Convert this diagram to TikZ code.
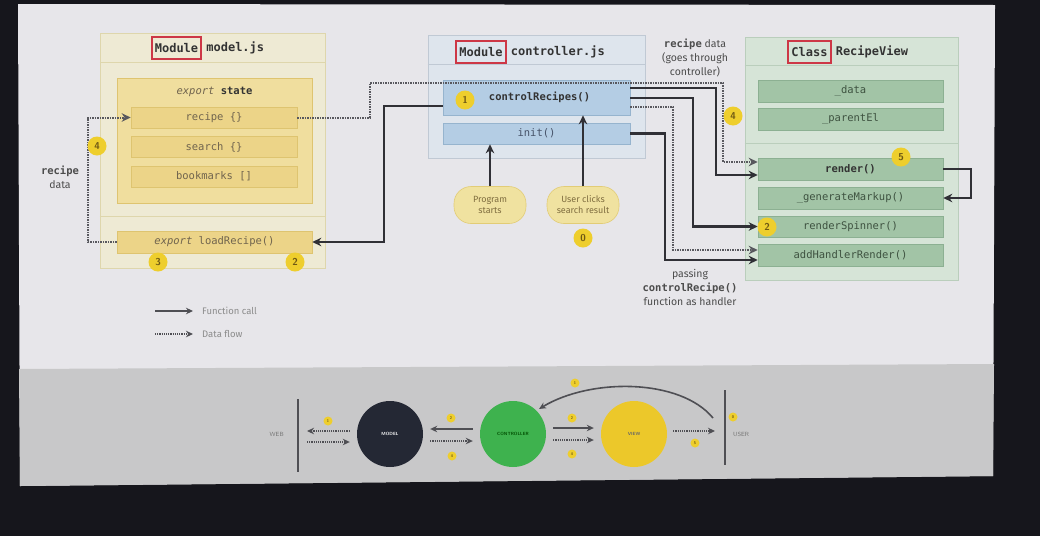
\documentclass[tikz,border=0pt]{standalone}
\usepackage{fontspec}
\setmainfont{Fira Sans}
\setmonofont{DejaVu Sans Mono}
\usetikzlibrary{arrows.meta, positioning, calc}

\definecolor{bezel}{RGB}{22,22,28}
\definecolor{slide}{RGB}{231,230,234}
\definecolor{band}{RGB}{200,200,201}
\definecolor{wire}{RGB}{48,48,54}
\definecolor{dotwire}{RGB}{88,88,94}
\definecolor{tagred}{RGB}{205,55,70}
\definecolor{badge}{RGB}{238,206,45}
\definecolor{badgetext}{RGB}{110,88,20}
% model colours
\definecolor{modelbg}{RGB}{238,234,212}
\definecolor{modelline}{RGB}{222,214,172}
\definecolor{modelitem}{RGB}{236,212,136}
\definecolor{modelitemline}{RGB}{222,196,112}
\definecolor{modeltext}{RGB}{112,100,78}
\definecolor{statebg}{RGB}{240,222,158}
% controller colours
\definecolor{ctrlbg}{RGB}{222,229,237}
\definecolor{ctrlline}{RGB}{192,201,212}
\definecolor{ctrlitem}{RGB}{180,205,228}
\definecolor{ctrlitemline}{RGB}{150,180,206}
\definecolor{ctrltext}{RGB}{70,82,104}
% view colours
\definecolor{viewbg}{RGB}{214,228,215}
\definecolor{viewline}{RGB}{186,206,188}
\definecolor{viewitem}{RGB}{162,196,166}
\definecolor{viewitemline}{RGB}{140,176,146}
\definecolor{viewtext}{RGB}{62,82,64}
% pills and overview
\definecolor{pillbg}{RGB}{240,226,160}
\definecolor{pillline}{RGB}{226,204,118}
\definecolor{pilltext}{RGB}{128,110,64}
\definecolor{modeldark}{RGB}{36,40,52}
\definecolor{ctrlgreen}{RGB}{62,178,78}
\definecolor{viewyellow}{RGB}{236,200,42}

\tikzset{
    outer-box/.style={
        draw=#1line, fill=#1bg, line width=.8pt, inner sep=0pt
    },
    item-box/.style={
        draw=#1itemline, fill=#1item, line width=.6pt, inner sep=0pt,
        minimum height=21pt, text=#1text,
        font=\ttfamily\fontsize{10.5}{12}\selectfont
    },
    tag-box/.style={
        draw=tagred, line width=2pt, inner xsep=3pt, inner ysep=2pt, minimum height=22pt,
        font=\ttfamily\bfseries\fontsize{12}{14}\selectfont, text=black!80
    },
    header-text/.style={
        inner sep=0pt, font=\ttfamily\bfseries\fontsize{12}{14}\selectfont, text=black!80
    },
    badge/.style={
        circle, fill=badge, inner sep=0pt, minimum size=19pt,
        font=\sffamily\bfseries\fontsize{10}{10}\selectfont, text=badgetext
    },
    mini-badge/.style={
        circle, fill=badge, inner sep=0pt, minimum size=9pt,
        font=\sffamily\bfseries\fontsize{4}{4}\selectfont, text=badgetext
    },
    pill/.style={
        draw=pillline, fill=pillbg, line width=.6pt, rounded corners=17pt,
        minimum width=72pt, minimum height=37pt, inner sep=0pt, align=center,
        font=\fontsize{9}{11}\selectfont, text=pilltext
    },
    note/.style={
        align=center, inner sep=0pt, text=black!70,
        font=\fontsize{10.5}{14}\selectfont
    },
    func-call/.style={
        draw=wire, line width=2.1pt, -{Stealth[length=9pt, width=8.5pt]}
    },
    data-flow/.style={
        draw=dotwire, line width=2pt, dash pattern=on 1.4pt off 1.1pt,
        -{Stealth[length=9pt, width=8.5pt]}
    },
    mini-call/.style={
        draw=wire!85, line width=1.5pt, -{Stealth[length=7pt, width=6.5pt]}
    },
    mini-data/.style={
        draw=wire!85, line width=1.5pt, dash pattern=on 1.2pt off 1pt,
        -{Stealth[length=7pt, width=6.5pt]}
    },
}

\begin{document}
\begin{tikzpicture}[x=1pt, y=-1pt]

        % SCREEN AND SLIDE
        \useasboundingbox (0,0) rectangle (1040,536);
        \fill[bezel] (0,0) rectangle (1040,536);
        \fill[slide] (18,4) -- (995,5) -- (993,476) -- (20,486) -- cycle;
        \fill[band]  (19,369) -- (994,364) -- (993,476) -- (20,486) -- cycle;

        % MODULE MODEL.JS
        \node[outer-box=model, minimum width=225pt, minimum height=235pt] (MODEL) at (212.5,150.5) {};
        \draw[modelline, line width=.8pt] ($(MODEL.north west)+(0,30)$)  -- ($(MODEL.north east)+(0,30)$);
        \draw[modelline, line width=.8pt] ($(MODEL.north west)+(0,184)$) -- ($(MODEL.north east)+(0,184)$);
        \node[tag-box, fill=modelbg]          (MODTAG)  at (176.5,48) {Module};
        \node[header-text, right=4pt of MODTAG] (MODNAME) {model.js};
        \node[draw=modelitemline, fill=statebg, line width=.6pt, minimum width=195pt, minimum height=125pt] (STATE) at (214.5,140.5) {};
        \node[inner sep=0pt, text=modeltext, font=\ttfamily\fontsize{10.5}{12}\selectfont] (STATELBL) at (214.5,92)
            {\textit{export} \textbf{\color{black!80}state}};
        \node[item-box=model, minimum width=166pt] (RECIPE)    at (214,117.5) {recipe \{\}};
        \node[item-box=model, minimum width=166pt] (SEARCH)    at (214,147)   {search \{\}};
        \node[item-box=model, minimum width=166pt] (BOOKMARKS) at (214,176.5) {bookmarks []};
        \node[item-box=model, minimum width=195pt, minimum height=22pt] (LOAD) at (214.5,242) {\textit{export} loadRecipe()};

        % MODULE CONTROLLER.JS
        \node[outer-box=ctrl, minimum width=217pt, minimum height=123pt] (CTRL) at (536.5,96.5) {};
        \draw[ctrlline, line width=.8pt] ($(CTRL.north west)+(0,30)$) -- ($(CTRL.north east)+(0,30)$);
        \node[tag-box, fill=ctrlbg]              (CTRLTAG)  at (481,52) {Module};
        \node[header-text, right=4pt of CTRLTAG] (CTRLNAME) {controller.js};
        \node[item-box=ctrl, minimum width=187pt, minimum height=35pt, text=black!80,
              font=\ttfamily\bfseries\fontsize{10.5}{12}\selectfont] (CONTROLRECIPES) at (536.5,97.5) {\hspace*{6pt}controlRecipes()};
        \node[item-box=ctrl, minimum width=187pt] (INIT) at (536.5,133.5) {init()};
        \node[pill] (PROGRAM)   at (490,205) {Program\\starts};
        \node[pill] (USERCLICK) at (583,205) {User clicks\\search result};

        % CLASS RECIPEVIEW
        \node[outer-box=view, minimum width=213pt, minimum height=243pt] (VIEW) at (851.5,158.5) {};
        \draw[viewline, line width=.8pt] ($(VIEW.north west)+(0,29)$)  -- ($(VIEW.north east)+(0,29)$);
        \draw[viewline, line width=.8pt] ($(VIEW.north west)+(0,107)$) -- ($(VIEW.north east)+(0,107)$);
        \node[tag-box, fill=viewbg]              (VIEWTAG)  at (809.5,52) {Class};
        \node[header-text, right=4pt of VIEWTAG] (VIEWNAME) {RecipeView};
        \node[item-box=view, minimum width=185pt, minimum height=22pt] (DATA)       at (850.5,91)    {\_data};
        \node[item-box=view, minimum width=185pt, minimum height=22pt] (PARENTEL)   at (850.5,119)   {\_parentEl};
        \node[item-box=view, minimum width=185pt, minimum height=22pt, text=black!80,
              font=\ttfamily\bfseries\fontsize{10.5}{12}\selectfont] (RENDER)      at (850.5,169)   {render()};
        \node[item-box=view, minimum width=185pt, minimum height=22pt] (GENMARKUP)  at (850.5,198)   {\_generateMarkup()};
        \node[item-box=view, minimum width=185pt] (SPINNER)    at (850.5,226.5) {renderSpinner()};
        \node[item-box=view, minimum width=185pt, minimum height=22pt] (ADDHANDLER) at (850.5,255)   {addHandlerRender()};

        % CONNECTOR POINTS
        \coordinate (LOOPL) at (88,180);
        \coordinate (TOPL)  at (370,83);
        \coordinate (TOPR)  at (723,162);
        \coordinate (CALLL) at (384,106);
        \coordinate (CALLR) at (716,88);
        \coordinate (CALLS) at (693,98);
        \coordinate (HANDD) at (673,107);
        \coordinate (HANDC) at (665,133.5);
        \coordinate (SELF)  at (971,180);

        % DATA FLOW
        \draw[data-flow] (LOAD.west) -| (LOOPL) |- (RECIPE.west);
        \draw[data-flow] (RECIPE.east) -| (TOPL) -| (TOPR) -- (RENDER.west |- TOPR);
        \draw[data-flow] (CONTROLRECIPES.east |- HANDD) -- (HANDD) |- ([yshift=5pt]ADDHANDLER.west);

        % FUNCTION CALLS
        \draw[func-call] (CONTROLRECIPES.west |- CALLL) -- (CALLL) |- (LOAD.east);
        \draw[func-call] (CONTROLRECIPES.east |- CALLR) -- (CALLR) |- ([yshift=-6pt]RENDER.west);
        \draw[func-call] (CONTROLRECIPES.east |- CALLS) -- (CALLS) |- (SPINNER.west);
        \draw[func-call] (INIT.east) -- (HANDC) |- ([yshift=-5pt]ADDHANDLER.west);
        \draw[func-call] (RENDER.east) -| (SELF) |- (GENMARKUP.east);
        \draw[func-call] (PROGRAM.north) -- (PROGRAM.north |- INIT.south);
        \draw[func-call] (USERCLICK.north) -- (USERCLICK.north |- CONTROLRECIPES.south);

        % STEP NUMBERS
        \node[badge] (STEP0)  at (583,238) {0};
        \node[badge] (STEP1)  at (465,100) {1};
        \node[badge] (STEP2A) at (295,262) {2};
        \node[badge] (STEP2B) at (767,227) {2};
        \node[badge] (STEP3)  at (158,262) {3};
        \node[badge] (STEP4A) at (97,146)  {4};
        \node[badge] (STEP4B) at (733,116) {4};
        \node[badge] (STEP5)  at (901,157) {5};

        % NOTES
        \node[note] (NOTELEFT) at (60,177) {{\ttfamily\bfseries recipe}\\data};
        \node[note] (NOTETOP)  at (695,58) {{\ttfamily\bfseries recipe} data\\(goes through\\controller)};
        \node[note] (NOTEBOT)  at (690,287) {passing\\{\ttfamily\bfseries controlRecipe()}\\function as handler};

        % LEGEND
        \node[anchor=west, inner sep=0pt, text=black!45, font=\fontsize{9.5}{11}\selectfont] (LEGCALL) at (202,311) {Function call};
        \node[anchor=west, inner sep=0pt, text=black!45, font=\fontsize{9.5}{11}\selectfont] (LEGDATA) at (202,334) {Data flow};
        \draw[mini-call, shorten >=9pt] ([xshift=-47pt]LEGCALL.west) -- (LEGCALL.west);
        \draw[mini-data, shorten >=9pt] ([xshift=-47pt]LEGDATA.west) -- (LEGDATA.west);

        % OVERVIEW
        \node[circle, fill=modeldark, minimum size=66pt, inner sep=0pt, text=white,
              font=\sffamily\bfseries\fontsize{4.5}{5}\selectfont] (MODELC) at (390,434) {MODEL};
        \node[circle, fill=ctrlgreen, minimum size=66pt, inner sep=0pt, text=green!30!black,
              font=\sffamily\bfseries\fontsize{4.5}{5}\selectfont] (CTRLC) at (513,434) {CONTROLLER};
        \node[circle, fill=viewyellow, minimum size=66pt, inner sep=0pt, text=black!60,
              font=\sffamily\bfseries\fontsize{4.5}{5}\selectfont] (VIEWC) at (634,434) {VIEW};
        \coordinate (WEBL)  at (298,434);
        \coordinate (USERL) at (725,434);
        \coordinate (CURVE) at (713,418);
        \draw[wire!85, line width=1.5pt] ([yshift=35pt]WEBL) -- ([yshift=-38pt]WEBL);
        \draw[wire!85, line width=1.5pt] ([yshift=44pt]USERL) -- ([yshift=-31pt]USERL);
        \node[left=14pt of WEBL, inner sep=0pt, text=black!55, font=\sffamily\fontsize{6}{6}\selectfont] (WEB) {WEB};
        \node[right=8pt of USERL, inner sep=0pt, text=black!55, font=\sffamily\fontsize{6}{6}\selectfont] (USER) {USER};
        \draw[mini-data, shorten <=7pt, shorten >=9pt] ([yshift=3pt]MODELC.west) -- ([yshift=3pt]WEBL);
        \draw[mini-data, shorten <=9pt, shorten >=7pt] ([yshift=-8pt]WEBL) -- ([yshift=-8pt]MODELC.west);
        \draw[mini-call, shorten <=7pt, shorten >=7pt] ([yshift=5pt]CTRLC.west) -- ([yshift=5pt]MODELC.east);
        \draw[mini-data, shorten <=7pt, shorten >=7pt] ([yshift=-7pt]MODELC.east) -- ([yshift=-7pt]CTRLC.west);
        \draw[mini-call, shorten <=7pt, shorten >=7pt] ([yshift=6pt]CTRLC.east) -- ([yshift=6pt]VIEWC.west);
        \draw[mini-data, shorten <=7pt, shorten >=7pt] ([yshift=-6pt]CTRLC.east) -- ([yshift=-6pt]VIEWC.west);
        \draw[mini-data, shorten <=6pt, shorten >=10pt] ([yshift=3pt]VIEWC.east) -- ([yshift=3pt]USERL);
        \draw[wire!85, line width=1.6pt, -{Stealth[length=7pt, width=6.5pt]}, shorten >=3pt]
            (CURVE) .. controls (680,378) and (590,378) .. (CTRLC.north east);
        \node[mini-badge] (MINI1A) at (328,421) {1};
        \node[mini-badge] (MINI2A) at (451,418) {2};
        \node[mini-badge] (MINI4A) at (452,456) {4};
        \node[mini-badge] (MINI2B) at (572,418) {2};
        \node[mini-badge] (MINI4B) at (572,454) {4};
        \node[mini-badge] (MINI1B) at (575,383) {1};
        \node[mini-badge] (MINI5)  at (695,443) {5};
        \node[mini-badge] (MINI0)  at (733,417) {0};

\end{tikzpicture}
\end{document}
